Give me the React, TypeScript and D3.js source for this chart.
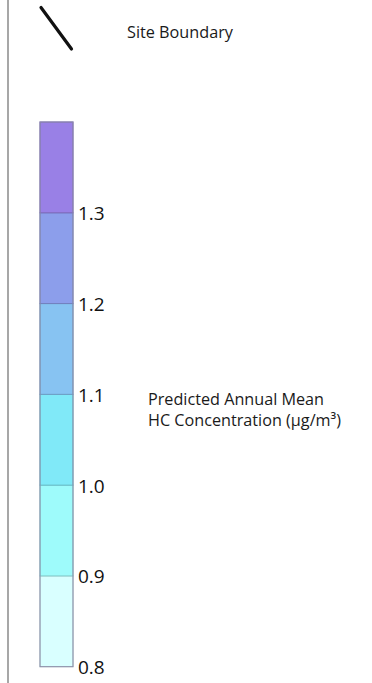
import React from "react";
import * as d3 from "d3";

const bandEdges = [0.8, 0.9, 1.0, 1.1, 1.2, 1.3, 1.4];
const bandColors = ["#D9FFFF", "#9EFBFB", "#80E9F8", "#87C3F2", "#8C9EEB", "#9980E6"];
const tickValues = [0.8, 0.9, 1.0, 1.1, 1.2, 1.3];
const legendLabel = "Site Boundary";
const titleLines = ["Predicted Annual Mean", "HC Concentration (µg/m³)"];

const W = 372;
const H = 683;
const FONT = "'Open Sans', 'Noto Sans', sans-serif";

export default function App() {
  const y = d3.scaleLinear().domain([0.8, 1.4]).range([666.7, 122]);
  const x0 = 40;
  const x1 = 73;
  const bands = d3.range(bandColors.length).map((i) => ({
    lo: bandEdges[i],
    hi: bandEdges[i + 1],
    color: bandColors[i],
  }));
  return (
    <svg
      width={W}
      height={H}
      style={{ position: "absolute", left: 0, top: 0, background: "#fff" }}
    >
      <rect x={0} y={0} width={W} height={H} fill="#fff" />
      <line x1={8} y1={0} x2={8} y2={H} stroke="#8a8a8a" strokeWidth={1.5} />
      <line x1={41} y1={7.5} x2={71.5} y2={49} stroke="#111" strokeWidth={3.2} strokeLinecap="round" />
      <text x={127} y={37.5} fontFamily={FONT} fontSize={16.2} fill="#1a1a1a" textLength={106} lengthAdjust="spacingAndGlyphs">
        {legendLabel}
      </text>
      {bands.map((b, i) => (
        <rect
          key={i}
          x={x0}
          y={y(b.hi)}
          width={x1 - x0}
          height={y(b.lo) - y(b.hi)}
          fill={b.color}
          stroke={d3.color(b.color)!.darker(0.6).formatHex()}
          strokeWidth={1}
        />
      ))}
      <rect
        x={x0}
        y={y(1.4)}
        width={x1 - x0}
        height={y(0.8) - y(1.4)}
        fill="none"
        stroke="#8c8ca8"
        strokeWidth={1}
      />
      {tickValues.map((t) => (
        <text
          key={t}
          x={78}
          y={y(t) + 7.5}
          fontFamily={FONT}
          fontSize={19}
          fill="#111"
        >
          {d3.format(".1f")(t)}
        </text>
      ))}
      {titleLines.map((l, i) => (
        <text key={i} x={148} y={404.5 + i * 21} fontFamily={FONT} fontSize={16.2} fill="#1a1a1a">
          {l}
        </text>
      ))}
    </svg>
  );
}
